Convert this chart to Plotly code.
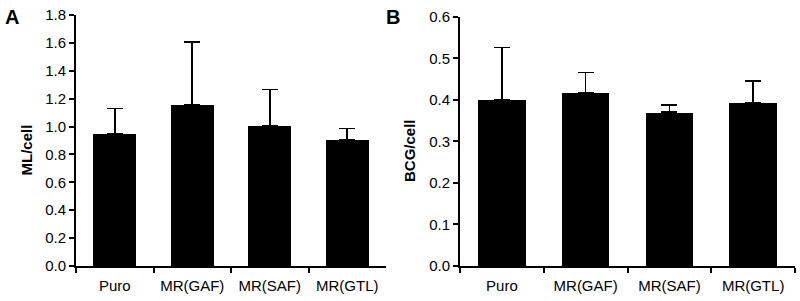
import plotly.graph_objects as go

categories = ["Puro", "MR(GAF)", "MR(SAF)", "MR(GTL)"]
ml_values = [0.95, 1.155, 1.005, 0.905]
ml_errors = [0.18, 0.45, 0.26, 0.08]
bcg_values = [0.40, 0.416, 0.370, 0.392]
bcg_errors = [0.126, 0.05, 0.017, 0.053]
ml_ticks = [0.0, 0.2, 0.4, 0.6, 0.8, 1.0, 1.2, 1.4, 1.6, 1.8]
bcg_ticks = [0.0, 0.1, 0.2, 0.3, 0.4, 0.5, 0.6]

FONT = "Arial, Liberation Sans, sans-serif"
W, H = 800, 301

fig = go.Figure()
fig.add_trace(go.Bar(
    x=categories, y=ml_values, width=0.56, marker=dict(color="black", line=dict(width=0)),
    error_y=dict(type="data", array=ml_errors, arrayminus=[0]*4, symmetric=False,
                 color="black", thickness=1.6, width=8),
    xaxis="x", yaxis="y", showlegend=False))
fig.add_trace(go.Bar(
    x=categories, y=bcg_values, width=0.57, marker=dict(color="black", line=dict(width=0)),
    error_y=dict(type="data", array=bcg_errors, arrayminus=[0]*4, symmetric=False,
                 color="black", thickness=1.6, width=8),
    xaxis="x2", yaxis="y2", showlegend=False))

xcommon = dict(showline=True, linecolor="black", linewidth=2, ticks="outside",
               tickson="boundaries", ticklen=5, tickwidth=2, tickcolor="black",
               showgrid=False, zeroline=False, tickfont=dict(family=FONT, size=15, color="black"),
               fixedrange=True, automargin=False, ticklabelstandoff=5)
ycommon = dict(showline=True, linecolor="black", linewidth=2, ticks="outside",
               ticklen=5, tickwidth=2, tickcolor="black", showgrid=False, zeroline=False,
               tickfont=dict(family=FONT, size=15, color="black"), fixedrange=True,
               automargin=False)


def px_ann(text, x, y, size, angle=0):
    return dict(text=text, x=x / W, y=1 - y / H, xref="paper", yref="paper",
                showarrow=False, xanchor="center", yanchor="middle", textangle=angle,
                font=dict(family=FONT, size=size, color="black"))


fig.update_layout(
    width=W, height=H,
    margin=dict(l=0, r=0, t=0, b=0, autoexpand=False),
    paper_bgcolor="white", plot_bgcolor="white",
    bargap=0,
    xaxis=dict(domain=[0.095, 0.4825], anchor="y", **xcommon),
    yaxis=dict(domain=[0.1163, 0.950], anchor="x", range=[0, 1.8],
               tickvals=ml_ticks, ticktext=[f"{v:.1f}" for v in ml_ticks], **ycommon),
    xaxis2=dict(domain=[0.575, 0.99375], anchor="y2", **xcommon),
    yaxis2=dict(domain=[0.1163, 0.9445], anchor="x2", range=[0, 0.6],
                tickvals=bcg_ticks, ticktext=[f"{v:.1f}" for v in bcg_ticks], **ycommon),
    annotations=[
        px_ann("<b>A</b>", 12, 17, 20),
        px_ann("<b>B</b>", 393, 17, 20),
        px_ann("<b>ML/cell</b>", 26.5, 150, 15, -90),
        px_ann("<b>BCG/cell</b>", 410, 150, 15, -90),
    ],
)

fig.write_html("out.html", config={"displayModeBar": False},
               post_script="document.body.style.margin='0';document.body.style.overflow='hidden';")
